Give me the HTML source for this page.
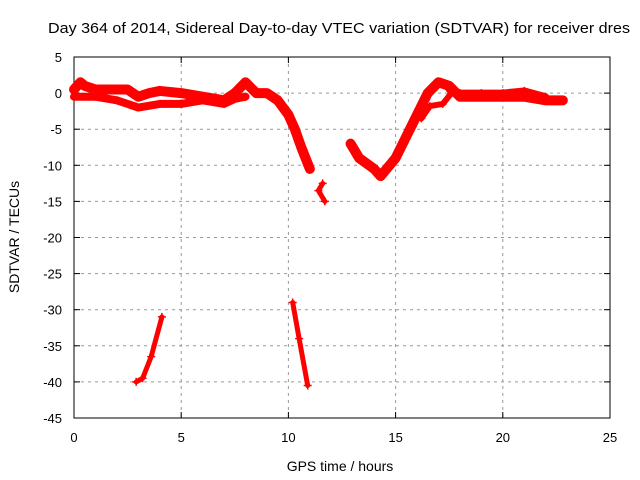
<!DOCTYPE html>
<html><head><meta charset="utf-8"><style>
body{margin:0;background:#fff;}
svg{display:block;font-family:"Liberation Sans",sans-serif;}
</style></head><body>
<svg id="chart" width="640" height="480" viewBox="0 0 640 480">
<text x="48" y="33" font-size="15" textLength="582" lengthAdjust="spacingAndGlyphs">Day 364 of 2014, Sidereal Day-to-day VTEC variation (SDTVAR) for receiver dres</text>
<g id="grid"></g>
<g id="ticks" font-size="13"></g>
<rect x="74" y="57" width="536" height="361" fill="none" stroke="#000" stroke-width="1"/>
<g id="series"></g>
<text x="340" y="471" font-size="14" text-anchor="middle">GPS time / hours</text>
<text transform="translate(19,237) rotate(-90)" font-size="14" text-anchor="middle">SDTVAR / TECUs</text>
</svg>
<script>
const xTicks=[0,5,10,15,20,25];
const yTicks=[5,0,-5,-10,-15,-20,-25,-30,-35,-40,-45];
const bandUpperX=[0,0.3,0.5,1,2,2.5,3,3.5,4,5,6,7,7.5,8,8.5,9,9.5,10,10.3,10.6,11];
const bandUpperY=[0.5,1.5,1,0.5,0.5,0.5,-0.5,0,0.3,0,-0.5,-1,0,1.5,0,0,-1,-3,-5,-7.5,-10.5];
const bandLowerX=[0,1,2,3,4,5,6,7,7.5,8];
const bandLowerY=[-0.5,-0.5,-1,-2,-1.5,-1.5,-1,-1.5,-0.8,-0.5];
const fragX=[11.6,11.4,11.7];
const fragY=[-12.5,-13.5,-15];
const recoverX=[12.9,13.3,14,14.3,15,15.5,16,16.5,17,17.5,18,19,20,21,22,22.8];
const recoverY=[-7,-9,-10.5,-11.5,-9,-6,-3,0,1.5,1,-0.5,-0.5,-0.5,-0.5,-1,-1];
const upper2X=[17.5,18,19,20,21,22];
const upper2Y=[0.5,0,0,0,0.3,-0.5];
const branchX=[16.2,16.6,17.2,17.6];
const branchY=[-3.5,-1.8,-1.5,0];
const dropAX=[2.9,3.2,3.6,4.1];
const dropAY=[-40,-39.5,-36.5,-31];
const dropBX=[10.2,10.5,10.9];
const dropBY=[-29,-34,-40.5];
const NS="http://www.w3.org/2000/svg";
const sx=v=>74+v*536/25;
const sy=v=>57+(5-v)*361/50;
function mk(t,a){const e=document.createElementNS(NS,t);for(const k in a)e.setAttribute(k,a[k]);return e;}
const grid=document.getElementById('grid'),ticks=document.getElementById('ticks'),ser=document.getElementById('series');
xTicks.forEach(v=>{
 if(v>0&&v<25){const l=mk('line',{x1:sx(v),x2:sx(v),y1:57,y2:418,stroke:'#999','stroke-dasharray':'3,4'});
 grid.appendChild(l);}
 const t=mk('line',{x1:sx(v),x2:sx(v),y1:418,y2:412,stroke:'#000'});
 ticks.appendChild(t);
 const t2=mk('line',{x1:sx(v),x2:sx(v),y1:57,y2:63,stroke:'#000'});
 ticks.appendChild(t2);
 const tx=mk('text',{x:sx(v),y:442,'text-anchor':'middle'});tx.textContent=v;
 ticks.appendChild(tx);
});
yTicks.forEach(v=>{
 if(v<5&&v>-45){const l=mk('line',{x1:74,x2:610,y1:sy(v),y2:sy(v),stroke:'#999','stroke-dasharray':'3,4'});
 grid.appendChild(l);}
 const t=mk('line',{x1:74,x2:80,y1:sy(v),y2:sy(v),stroke:'#000'});
 ticks.appendChild(t);
 const t2=mk('line',{x1:604,x2:610,y1:sy(v),y2:sy(v),stroke:'#000'});
 ticks.appendChild(t2);
 const tx=mk('text',{x:62,y:sy(v)+5,'text-anchor':'end'});tx.textContent=v;
 ticks.appendChild(tx);
});
function draw(xs,ys,name,w){
 const pts=xs.map((x,i)=>sx(x)+','+sy(ys[i])).join(' ');
 const pl=mk('polyline',{points:pts,fill:'none',stroke:'#f00','stroke-width':w,'stroke-linejoin':'round','stroke-linecap':'round'});
 ser.appendChild(pl);
 xs.forEach((x,i)=>{const X=sx(x),Y=sy(ys[i]);
  const p=mk('path',{d:`M${X-4},${Y}H${X+4}M${X},${Y-4}V${Y+4}`,stroke:'#f00','stroke-width':1.5});
  ser.appendChild(p);});
}
draw(bandUpperX,bandUpperY,'band-upper',10);
draw(bandLowerX,bandLowerY,'band-lower',8);
draw(fragX,fragY,'fragment',5);
draw(recoverX,recoverY,'recovery',10);
draw(upper2X,upper2Y,'recovery-upper',7);
draw(branchX,branchY,'recovery-branch',6);
draw(dropAX,dropAY,'drop-a',5);
draw(dropBX,dropBY,'drop-b',5);
</script>
</body></html>
